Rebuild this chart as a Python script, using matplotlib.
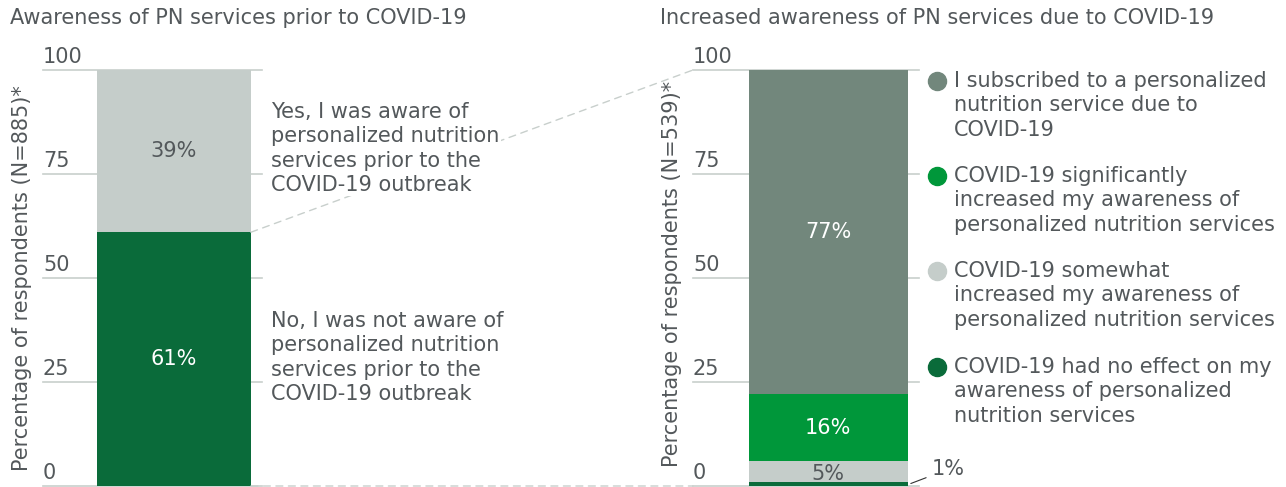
import matplotlib.pyplot as plt
from matplotlib.patches import ConnectionPatch

plt.rcParams['font.family'] = ['DejaVu Sans']

# data
left_labels = ["No, I was not aware of\npersonalized nutrition\nservices prior to the\nCOVID-19 outbreak",
               "Yes, I was aware of\npersonalized nutrition\nservices prior to the\nCOVID-19 outbreak"]
left_vals = [61, 39]
left_colors = ["#0a6b3a", "#c5cdca"]

right_labels = ["COVID-19 had no effect on my\nawareness of personalized\nnutrition services",
                "COVID-19 somewhat\nincreased my awareness of\npersonalized nutrition services",
                "COVID-19 significantly\nincreased my awareness of\npersonalized nutrition services",
                "I subscribed to a personalized\nnutrition service due to\nCOVID-19"]
right_vals = [1, 5, 16, 78]          # segment heights as drawn
right_text = ["1%", "5%", "16%", "77%"]
right_colors = ["#0a6b3a", "#c5cdca", "#00973a", "#72877c"]

yticks = [0, 25, 50, 75, 100]

TXT = "#53585b"
GRID = "#c8cfcc"
W, H = 1286, 487
FS = 15
LS = 1.27

fig = plt.figure(figsize=(W / 100, H / 100), dpi=100)


def fx(p):
    return p / W


def fy(p):
    return 1 - p / H


def make_axes(x0, bar_w):
    lo, hi = -0.85, 0.57
    ax = fig.add_axes([fx(x0), fy(486), fx((hi - lo) * bar_w), 416 / H])
    ax.set_xlim(lo, hi)
    ax.set_ylim(0, 100)
    ax.axis('off')
    for t in yticks:
        ax.axhline(t, color=GRID, lw=1.2, zorder=0, clip_on=False)
        ax.annotate(str(t), (lo, t), xytext=(0, 2), textcoords='offset points',
                    ha='left', va='bottom', fontsize=FS, color=TXT)
    return ax


ax1 = make_axes(43, 154)
ax2 = make_axes(693, 159)

# left bar
bottom = 0
for v, c in zip(left_vals, left_colors):
    ax1.bar(0, v, width=1, bottom=bottom, color=c, zorder=2)
    ax1.text(0, bottom + v / 2, f"{v}%", ha='center', va='center', fontsize=FS,
             color='white' if c == "#0a6b3a" else TXT, zorder=3)
    bottom += v

# right bar
bottom = 0
for v, t, c in zip(right_vals, right_text, right_colors):
    ax2.bar(0, v, width=1, bottom=bottom, color=c, zorder=2)
    if v > 3:
        ax2.text(0, bottom + v / 2 - (0.6 if v < 8 else 0), t, ha='center', va='center',
                 fontsize=FS, color=TXT if c == "#c5cdca" else 'white', zorder=3)
    bottom += v

# 1% callout
ax2.annotate(right_text[0], xy=(0.52, 0.6), xytext=(0.65, 4), textcoords='data',
             ha='left', va='center', fontsize=FS, color=TXT,
             arrowprops=dict(arrowstyle='-', color='#333333', lw=0.8,
                             shrinkA=2, shrinkB=0))

# connectors
for ya, yb in [(left_vals[0], 100), (0, 0)]:
    con = ConnectionPatch(xyA=(0.5, ya), coordsA=ax1.transData,
                          xyB=(-0.85, yb), coordsB=ax2.transData,
                          color=GRID, lw=1, linestyle=(0, (5, 4)), zorder=1)
    fig.add_artist(con)

# left annotations
fig.text(fx(271), fy(102), left_labels[1], ha='left', va='top', fontsize=FS,
         color=TXT, linespacing=LS,
         bbox=dict(facecolor='white', edgecolor='none', pad=1), zorder=5)
fig.text(fx(271), fy(311), left_labels[0], ha='left', va='top', fontsize=FS,
         color=TXT, linespacing=LS,
         bbox=dict(facecolor='white', edgecolor='none', pad=1), zorder=5)

# legend
tops = [71, 166, 261, 357]
for lab, c, t in zip(right_labels[::-1], right_colors[::-1], tops):
    fig.lines.append(plt.Line2D([fx(937)], [fy(t + 10)], marker='o', markersize=13,
                                color=c, transform=fig.transFigure))
    fig.text(fx(954), fy(t), lab, ha='left', va='top', fontsize=FS, color=TXT,
             linespacing=LS)

# titles and axis labels
fig.text(fx(10), fy(18), "Awareness of PN services prior to COVID-19",
         ha='left', va='center', fontsize=FS, color=TXT)
fig.text(fx(660), fy(18), "Increased awareness of PN services due to COVID-19",
         ha='left', va='center', fontsize=FS, color=TXT)
fig.text(fx(22), fy(278), "Percentage of respondents (N=885)*", rotation=90,
         ha='center', va='center', fontsize=FS, color=TXT)
fig.text(fx(672), fy(274), "Percentage of respondents (N=539)*", rotation=90,
         ha='center', va='center', fontsize=FS, color=TXT)

fig.savefig("out.png", dpi=100, facecolor='white')
